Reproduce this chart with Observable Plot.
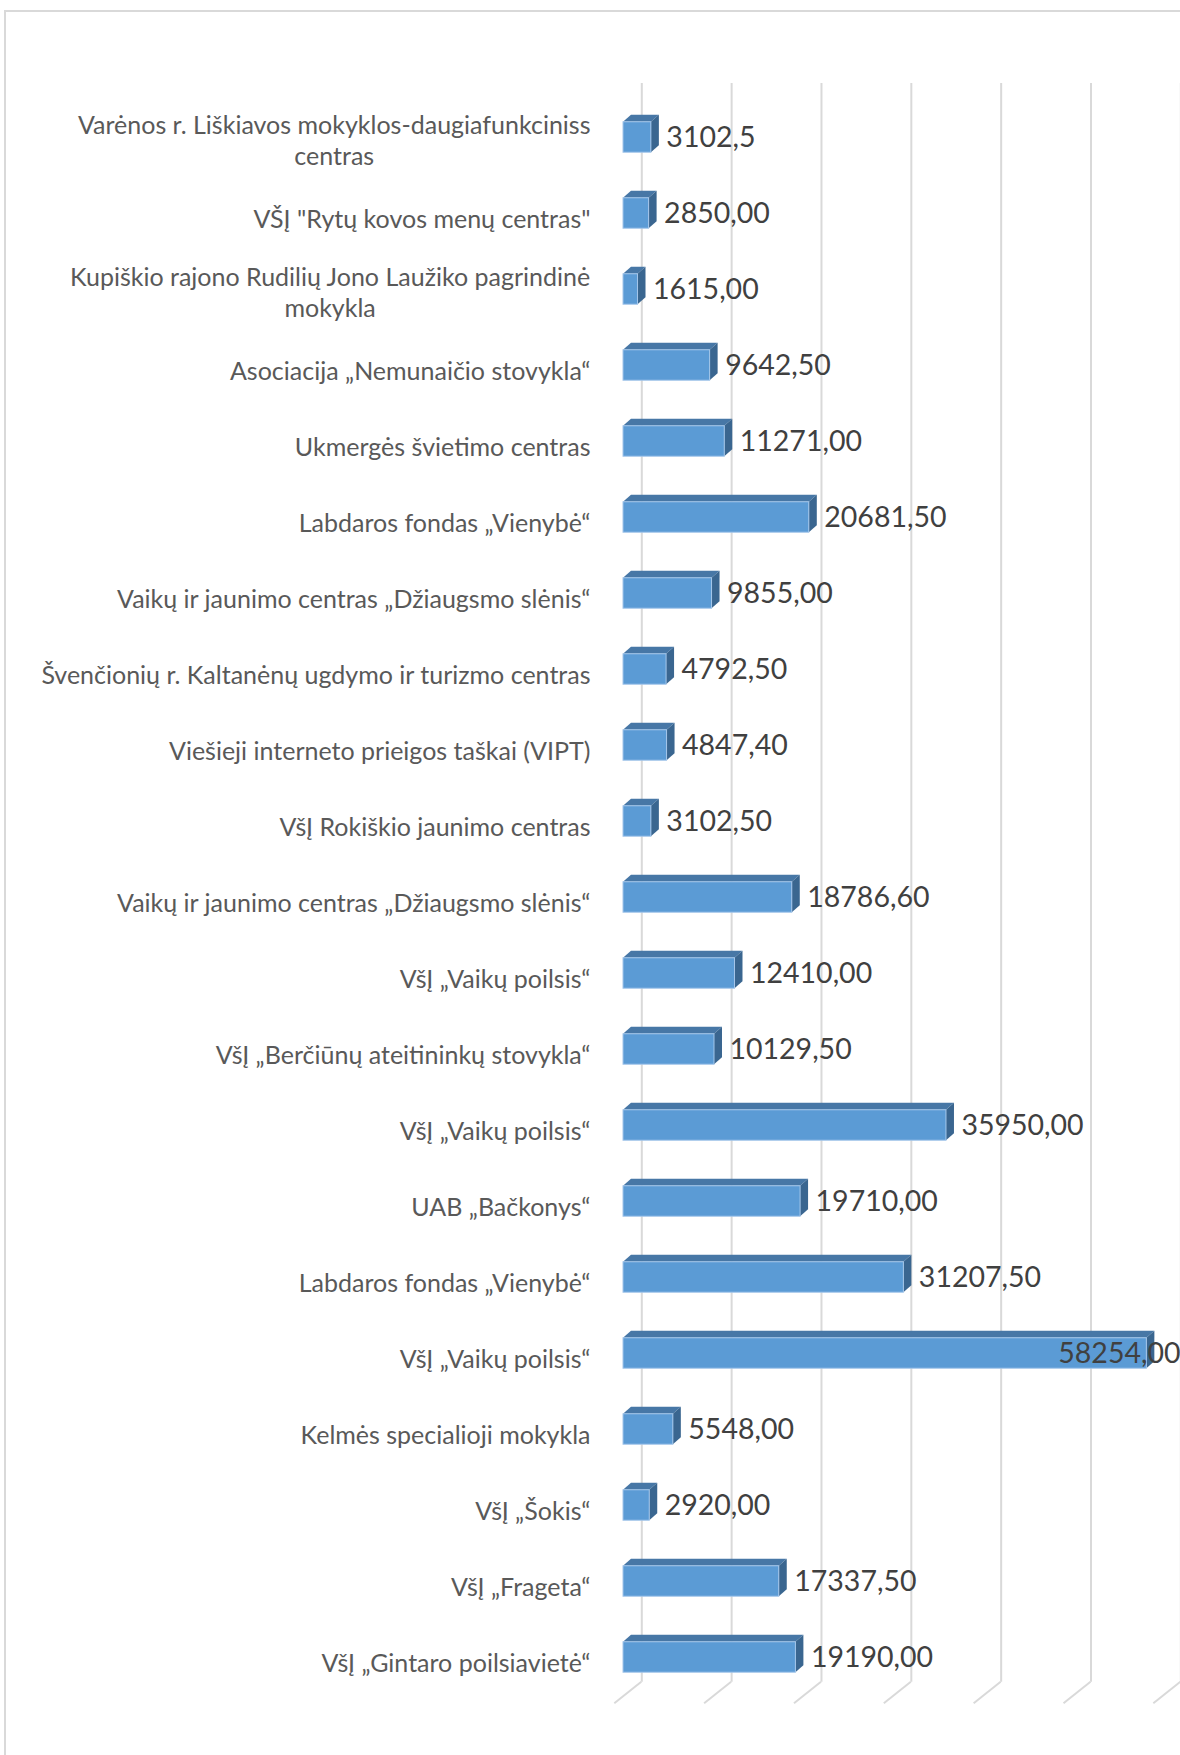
<!DOCTYPE html>
<html><head><meta charset="utf-8">
<script src="https://cdn.jsdelivr.net/npm/d3@7"></script>
<script src="https://cdn.jsdelivr.net/npm/@observablehq/plot@0.6"></script>
<style>
html,body{margin:0;padding:0;background:#fff;overflow:hidden;}
#wrap{position:relative;width:1180px;height:1755px;overflow:hidden;}
#border{position:absolute;left:4px;top:10px;width:1400px;height:1900px;border:2px solid #d9d9d9;box-sizing:border-box;}
#chart{position:absolute;left:0;top:0;}
</style></head>
<body><div id="wrap"><div id="border"></div><div id="chart"></div></div>
<script>
const categories = [
  "Varėnos r. Liškiavos mokyklos-daugiafunkciniss\ncentras",
  "VŠĮ \"Rytų kovos menų centras\"",
  "Kupiškio rajono Rudilių Jono Laužiko pagrindinė\nmokykla",
  "Asociacija „Nemunaičio stovykla“",
  "Ukmergės švietimo centras",
  "Labdaros fondas „Vienybė“",
  "Vaikų ir jaunimo centras „Džiaugsmo slėnis“",
  "Švenčionių r. Kaltanėnų ugdymo ir turizmo centras",
  "Viešieji interneto prieigos taškai (VIPT)",
  "VšĮ Rokiškio jaunimo centras",
  "Vaikų ir jaunimo centras „Džiaugsmo slėnis“",
  "VšĮ „Vaikų poilsis“",
  "VšĮ „Berčiūnų ateitininkų stovykla“",
  "VšĮ „Vaikų poilsis“",
  "UAB „Bačkonys“",
  "Labdaros fondas „Vienybė“",
  "VšĮ „Vaikų poilsis“",
  "Kelmės specialioji mokykla",
  "VšĮ „Šokis“",
  "VšĮ „Frageta“",
  "VšĮ „Gintaro poilsiavietė“"
];
const values = [3102.5, 2850, 1615, 9642.5, 11271, 20681.5, 9855, 4792.5, 4847.4, 3102.5,
  18786.6, 12410, 10129.5, 35950, 19710, 31207.5, 58254, 5548, 2920, 17337.5, 19190];
const valueLabels = ["3102,5", "2850,00", "1615,00", "9642,50", "11271,00", "20681,50", "9855,00",
  "4792,50", "4847,40", "3102,50", "18786,60", "12410,00", "10129,50", "35950,00", "19710,00",
  "31207,50", "58254,00", "5548,00", "2920,00", "17337,50", "19190,00"];
const gridTicks = [0, 10000, 20000, 30000, 40000, 50000, 60000];

const W = 1180, H = 1755, mL = 623, mR = 0, mT = 97.4, mB = 58.9;
const xDomain = [0, 62000];
const n = categories.length;
const band = (H - mT - mB) / n;
const barH = 30.6;
const inset = (band - barH) / 2;
const D = {dx: 8, dy: -7};            // bar depth offset
const back = {dx: 18.3, dy: -14.4};   // back wall offset
const floorFront = {dx: -8.7, dy: 7.2};
const catFont = "Lato", catSize = 25, catColor = "#595959";
const valFont = "Lato", valSize = 28.5, valColor = "#404040";
const catPad = 33, valPad = 15;

const rows = categories.map((c, i) => ({i, cat: c, value: values[i], label: valueLabels[i]}));
const xs = Plot.scale({x: {domain: xDomain, range: [mL, W - mR]}});
const ctx = document.createElement("canvas").getContext("2d");
function measure(t, size, font) { ctx.font = `${size}px ${font}`; return ctx.measureText(t).width; }

const fits = r => xs.apply(r.value) + valPad + measure(r.label, valSize, valFont) <= W;
const single = rows.filter(r => !r.cat.includes("\n"));
const multi = rows.filter(r => r.cat.includes("\n"));

const marks = [
  // back wall gridlines
  Plot.ruleX(gridTicks, {stroke: "#d9d9d9", strokeWidth: 2, dx: back.dx, dy: back.dy}),
  // floor depth lines
  Plot.ruleX(gridTicks, {
    render(index, scales, vals, dims) {
      const g = d3.create("svg:g");
      const bottom = dims.height - dims.marginBottom;
      for (const i of index) {
        const x = scales.x(gridTicks[i]);
        g.append("line")
          .attr("x1", x + back.dx).attr("y1", bottom + back.dy)
          .attr("x2", x + floorFront.dx).attr("y2", bottom + floorFront.dy)
          .attr("stroke", "#d9d9d9").attr("stroke-width", 2);
      }
      return g.node();
    }
  }),
  // 3D faces (top + side)
  Plot.barX(rows, {
    x: "value", y: "i",
    render(index, scales, vals, dims) {
      const g = d3.create("svg:g");
      for (const i of index) {
        const x0 = vals.x1[i], x1 = vals.x2[i];
        const yc = vals.y[i] + band / 2;
        const top = yc - barH / 2, bot = yc + barH / 2;
        g.append("polygon")
          .attr("points", [[x0, top], [x0 + D.dx, top + D.dy], [x1 + D.dx, top + D.dy], [x1, top]].join(" "))
          .attr("fill", "#4777a6");
        g.append("polygon")
          .attr("points", [[x1, top], [x1 + D.dx, top + D.dy], [x1 + D.dx, bot + D.dy], [x1, bot]].join(" "))
          .attr("fill", "#3a6690");
      }
      return g.node();
    }
  }),
  // front faces
  Plot.barX(rows, {x: "value", y: "i", insetTop: inset, insetBottom: inset, fill: "#5b9bd5", stroke: "#a4c6ea", strokeWidth: 1}),
  // value labels
  Plot.text(rows.filter(fits), {x: "value", y: "i", text: "label", dx: valPad, textAnchor: "start",
    fontFamily: valFont, fontSize: valSize, fill: valColor}),
  Plot.text(rows.filter(r => !fits(r)), {x: () => xDomain[1], y: "i", text: "label", textAnchor: "end",
    fontFamily: valFont, fontSize: valSize, fill: valColor}),
  // category labels
  Plot.text(single, {x: () => 0, y: "i", text: "cat", dx: -catPad, dy: 6.5, textAnchor: "end",
    fontFamily: catFont, fontSize: catSize, fill: catColor}),
  ...multi.map(r => {
    const w = d3.max(r.cat.split("\n"), l => measure(l, catSize, catFont));
    return Plot.text([r], {x: () => 0, y: "i", text: "cat", dx: -catPad - w / 2, dy: 2, textAnchor: "middle",
      lineHeight: 1.25, fontFamily: catFont, fontSize: catSize, fill: catColor});
  })
];

const chart = Plot.plot({
  width: W, height: H,
  marginLeft: mL, marginRight: mR, marginTop: mT, marginBottom: mB,
  style: {background: "transparent", overflow: "visible"},
  x: {domain: xDomain, axis: null},
  y: {type: "band", domain: d3.range(n), padding: 0, axis: null},
  marks
});
document.getElementById("chart").appendChild(chart);
</script>
</body></html>
